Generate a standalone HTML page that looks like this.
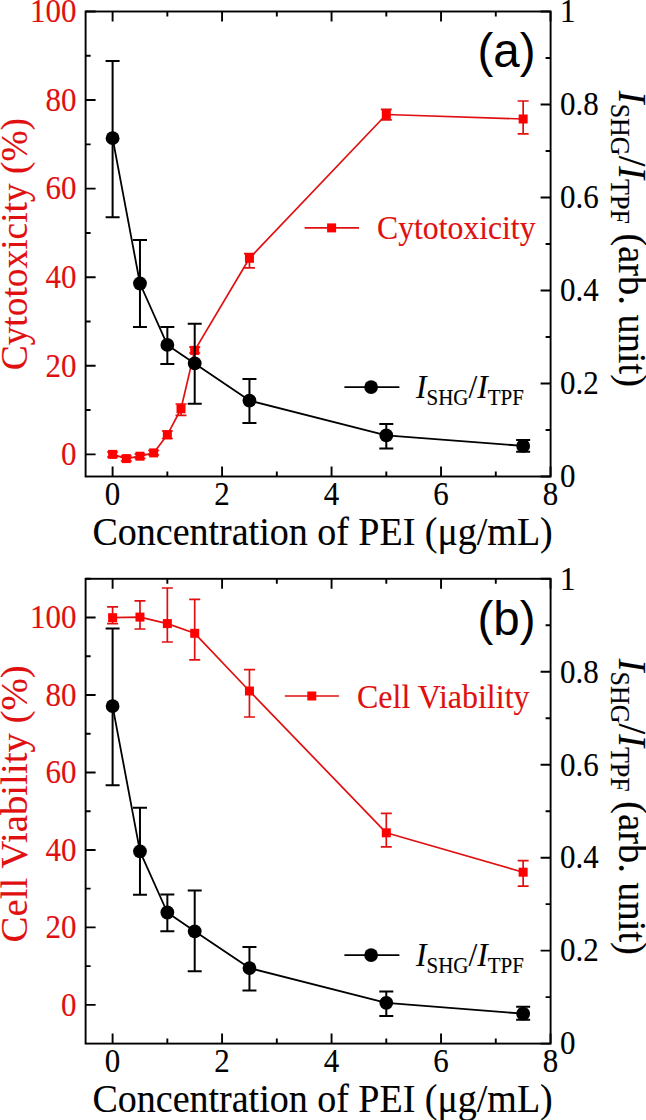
<!DOCTYPE html>
<html><head><meta charset="utf-8"><style>
html,body{margin:0;padding:0;background:#fff;}
svg{display:block;}
text{font-family:"Liberation Serif",serif;}
text.sans{font-family:"Liberation Sans",sans-serif;}
</style></head><body>
<svg width="646" height="1120" viewBox="0 0 646 1120">
<path d="M112.60 476.5V466.5M112.60 11.5V21.5M222.08 476.5V466.5M222.08 11.5V21.5M331.56 476.5V466.5M331.56 11.5V21.5M441.04 476.5V466.5M441.04 11.5V21.5M550.52 476.5V466.5M550.52 11.5V21.5M167.34 476.5V471.5M167.34 11.5V16.5M276.82 476.5V471.5M276.82 11.5V16.5M386.30 476.5V471.5M386.30 11.5V16.5M495.78 476.5V471.5M495.78 11.5V16.5M85.6 454.36H95.6M85.6 365.79H95.6M85.6 277.21H95.6M85.6 188.64H95.6M85.6 100.07H95.6M85.6 11.50H95.6M85.6 410.07H90.6M85.6 321.50H90.6M85.6 232.93H90.6M85.6 144.36H90.6M85.6 55.79H90.6M550.6 476.50H540.6M550.6 383.50H540.6M550.6 290.50H540.6M550.6 197.50H540.6M550.6 104.50H540.6M550.6 11.50H540.6M550.6 430.00H545.6M550.6 337.00H545.6M550.6 244.00H545.6M550.6 151.00H545.6M550.6 58.00H545.6" stroke="#000" stroke-width="1.9" fill="none"/>
<path d="M112.60 454.40 L126.28 458.60 L139.97 456.20 L153.66 452.90 L167.34 434.80 L181.02 408.80 L194.71 350.40 L249.45 258.30 L386.30 114.50 L523.15 119.00" stroke="#e01010" stroke-width="1.7" fill="none" stroke-linejoin="round"/>
<path d="M112.60 452.00V457.00M107.10 452.00H118.10M107.10 457.00H118.10M126.28 456.00V461.00M120.78 456.00H131.78M120.78 461.00H131.78M139.97 454.00V458.50M134.47 454.00H145.47M134.47 458.50H145.47M153.66 450.50V455.00M148.16 450.50H159.16M148.16 455.00H159.16M167.34 431.00V438.50M161.84 431.00H172.84M161.84 438.50H172.84M181.02 404.00V415.40M175.52 404.00H186.52M175.52 415.40H186.52M194.71 347.10V353.00M189.21 347.10H200.21M189.21 353.00H200.21M249.45 253.60V267.90M243.95 253.60H254.95M243.95 267.90H254.95M386.30 109.40V119.90M380.80 109.40H391.80M380.80 119.90H391.80M523.15 101.00V133.90M517.65 101.00H528.65M517.65 133.90H528.65" stroke="#e01010" stroke-width="1.7" fill="none"/>
<rect x="108.10" y="449.90" width="9" height="9" fill="#ff0000"/>
<rect x="121.78" y="454.10" width="9" height="9" fill="#ff0000"/>
<rect x="135.47" y="451.70" width="9" height="9" fill="#ff0000"/>
<rect x="149.16" y="448.40" width="9" height="9" fill="#ff0000"/>
<rect x="162.84" y="430.30" width="9" height="9" fill="#ff0000"/>
<rect x="176.52" y="404.30" width="9" height="9" fill="#ff0000"/>
<rect x="190.21" y="345.90" width="9" height="9" fill="#ff0000"/>
<rect x="244.95" y="253.80" width="9" height="9" fill="#ff0000"/>
<rect x="381.80" y="110.00" width="9" height="9" fill="#ff0000"/>
<rect x="518.65" y="114.50" width="9" height="9" fill="#ff0000"/>
<path d="M112.60 138.20 L139.97 283.50 L167.34 344.90 L194.71 363.40 L249.45 400.60 L386.30 435.40 L523.15 445.90" stroke="#000" stroke-width="1.8" fill="none" stroke-linejoin="round"/>
<path d="M112.60 60.90V217.30M105.60 60.90H119.60M105.60 217.30H119.60M139.97 240.00V327.00M132.97 240.00H146.97M132.97 327.00H146.97M167.34 327.00V363.90M160.34 327.00H174.34M160.34 363.90H174.34M194.71 323.70V403.80M187.71 323.70H201.71M187.71 403.80H201.71M249.45 379.10V423.10M242.45 379.10H256.45M242.45 423.10H256.45M386.30 423.90V448.40M379.30 423.90H393.30M379.30 448.40H393.30M523.15 440.00V451.80M516.15 440.00H530.15M516.15 451.80H530.15" stroke="#000" stroke-width="2" fill="none"/>
<circle cx="112.60" cy="138.20" r="6.9" fill="#000"/>
<circle cx="139.97" cy="283.50" r="6.9" fill="#000"/>
<circle cx="167.34" cy="344.90" r="6.9" fill="#000"/>
<circle cx="194.71" cy="363.40" r="6.9" fill="#000"/>
<circle cx="249.45" cy="400.60" r="6.9" fill="#000"/>
<circle cx="386.30" cy="435.40" r="6.9" fill="#000"/>
<circle cx="523.15" cy="445.90" r="6.9" fill="#000"/>
<rect x="85.6" y="11.5" width="465.0" height="465.0" fill="none" stroke="#000" stroke-width="1.9"/>
<path d="M112.60 1043.6V1033.6M112.60 578.8V588.8M222.08 1043.6V1033.6M222.08 578.8V588.8M331.56 1043.6V1033.6M331.56 578.8V588.8M441.04 1043.6V1033.6M441.04 578.8V588.8M550.52 1043.6V1033.6M550.52 578.8V588.8M167.34 1043.6V1038.6M167.34 578.8V583.8M276.82 1043.6V1038.6M276.82 578.8V583.8M386.30 1043.6V1038.6M386.30 578.8V583.8M495.78 1043.6V1038.6M495.78 578.8V583.8M85.6 1004.87H95.6M85.6 927.40H95.6M85.6 849.93H95.6M85.6 772.47H95.6M85.6 695.00H95.6M85.6 617.53H95.6M85.6 966.13H90.6M85.6 888.67H90.6M85.6 811.20H90.6M85.6 733.73H90.6M85.6 656.27H90.6M85.6 578.80H90.6M550.6 1043.60H540.6M550.6 950.64H540.6M550.6 857.68H540.6M550.6 764.72H540.6M550.6 671.76H540.6M550.6 578.80H540.6M550.6 997.12H545.6M550.6 904.16H545.6M550.6 811.20H545.6M550.6 718.24H545.6M550.6 625.28H545.6" stroke="#000" stroke-width="1.9" fill="none"/>
<path d="M112.60 617.70 L139.97 617.10 L167.34 623.60 L194.71 633.30 L249.45 691.00 L386.30 832.80 L523.15 872.20" stroke="#e01010" stroke-width="1.7" fill="none" stroke-linejoin="round"/>
<path d="M112.60 606.90V623.60M107.10 606.90H118.10M107.10 623.60H118.10M139.97 600.80V629.00M134.47 600.80H145.47M134.47 629.00H145.47M167.34 588.00V642.00M161.84 588.00H172.84M161.84 642.00H172.84M194.71 599.30V659.80M189.21 599.30H200.21M189.21 659.80H200.21M249.45 669.70V717.00M243.95 669.70H254.95M243.95 717.00H254.95M386.30 813.30V846.80M380.80 813.30H391.80M380.80 846.80H391.80M523.15 860.70V886.10M517.65 860.70H528.65M517.65 886.10H528.65" stroke="#e01010" stroke-width="1.7" fill="none"/>
<rect x="108.10" y="613.20" width="9" height="9" fill="#ff0000"/>
<rect x="135.47" y="612.60" width="9" height="9" fill="#ff0000"/>
<rect x="162.84" y="619.10" width="9" height="9" fill="#ff0000"/>
<rect x="190.21" y="628.80" width="9" height="9" fill="#ff0000"/>
<rect x="244.95" y="686.50" width="9" height="9" fill="#ff0000"/>
<rect x="381.80" y="828.30" width="9" height="9" fill="#ff0000"/>
<rect x="518.65" y="867.70" width="9" height="9" fill="#ff0000"/>
<path d="M112.60 706.10 L139.97 851.30 L167.34 912.50 L194.71 931.30 L249.45 968.10 L386.30 1002.80 L523.15 1013.70" stroke="#000" stroke-width="1.8" fill="none" stroke-linejoin="round"/>
<path d="M112.60 628.60V785.30M105.60 628.60H119.60M105.60 785.30H119.60M139.97 807.80V894.70M132.97 807.80H146.97M132.97 894.70H146.97M167.34 894.40V931.30M160.34 894.40H174.34M160.34 931.30H174.34M194.71 890.60V971.30M187.71 890.60H201.71M187.71 971.30H201.71M249.45 946.90V990.60M242.45 946.90H256.45M242.45 990.60H256.45M386.30 991.40V1016.10M379.30 991.40H393.30M379.30 1016.10H393.30M523.15 1006.80V1019.80M516.15 1006.80H530.15M516.15 1019.80H530.15" stroke="#000" stroke-width="2" fill="none"/>
<circle cx="112.60" cy="706.10" r="6.9" fill="#000"/>
<circle cx="139.97" cy="851.30" r="6.9" fill="#000"/>
<circle cx="167.34" cy="912.50" r="6.9" fill="#000"/>
<circle cx="194.71" cy="931.30" r="6.9" fill="#000"/>
<circle cx="249.45" cy="968.10" r="6.9" fill="#000"/>
<circle cx="386.30" cy="1002.80" r="6.9" fill="#000"/>
<circle cx="523.15" cy="1013.70" r="6.9" fill="#000"/>
<rect x="85.6" y="578.8" width="465.0" height="464.79999999999995" fill="none" stroke="#000" stroke-width="1.9"/>
<text x="0" y="0" font-size="31" fill="#e01010" stroke="#e01010" stroke-width="0.12" text-anchor="end" transform="translate(76.50,465.16) scale(1,1.1)">0</text>
<text x="0" y="0" font-size="31" fill="#e01010" stroke="#e01010" stroke-width="0.12" text-anchor="end" transform="translate(76.50,376.59) scale(1,1.1)">20</text>
<text x="0" y="0" font-size="31" fill="#e01010" stroke="#e01010" stroke-width="0.12" text-anchor="end" transform="translate(76.50,288.01) scale(1,1.1)">40</text>
<text x="0" y="0" font-size="31" fill="#e01010" stroke="#e01010" stroke-width="0.12" text-anchor="end" transform="translate(76.50,199.44) scale(1,1.1)">60</text>
<text x="0" y="0" font-size="31" fill="#e01010" stroke="#e01010" stroke-width="0.12" text-anchor="end" transform="translate(76.50,110.87) scale(1,1.1)">80</text>
<text x="0" y="0" font-size="31" fill="#e01010" stroke="#e01010" stroke-width="0.12" text-anchor="end" transform="translate(76.50,22.30) scale(1,1.1)">100</text>
<text x="0" y="0" font-size="31" fill="#000" stroke="#000" stroke-width="0.12" text-anchor="start" transform="translate(560.00,487.30) scale(1,1.1)">0</text>
<text x="0" y="0" font-size="31" fill="#000" stroke="#000" stroke-width="0.12" text-anchor="start" transform="translate(560.00,394.30) scale(1,1.1)">0.2</text>
<text x="0" y="0" font-size="31" fill="#000" stroke="#000" stroke-width="0.12" text-anchor="start" transform="translate(560.00,301.30) scale(1,1.1)">0.4</text>
<text x="0" y="0" font-size="31" fill="#000" stroke="#000" stroke-width="0.12" text-anchor="start" transform="translate(560.00,208.30) scale(1,1.1)">0.6</text>
<text x="0" y="0" font-size="31" fill="#000" stroke="#000" stroke-width="0.12" text-anchor="start" transform="translate(560.00,115.30) scale(1,1.1)">0.8</text>
<text x="0" y="0" font-size="31" fill="#000" stroke="#000" stroke-width="0.12" text-anchor="start" transform="translate(560.00,22.30) scale(1,1.1)">1</text>
<text x="0" y="0" font-size="31" fill="#000" stroke="#000" stroke-width="0.12" text-anchor="middle" transform="translate(112.60,505.20) scale(1,1.1)">0</text>
<text x="0" y="0" font-size="31" fill="#000" stroke="#000" stroke-width="0.12" text-anchor="middle" transform="translate(222.08,505.20) scale(1,1.1)">2</text>
<text x="0" y="0" font-size="31" fill="#000" stroke="#000" stroke-width="0.12" text-anchor="middle" transform="translate(331.56,505.20) scale(1,1.1)">4</text>
<text x="0" y="0" font-size="31" fill="#000" stroke="#000" stroke-width="0.12" text-anchor="middle" transform="translate(441.04,505.20) scale(1,1.1)">6</text>
<text x="0" y="0" font-size="31" fill="#000" stroke="#000" stroke-width="0.12" text-anchor="middle" transform="translate(550.52,505.20) scale(1,1.1)">8</text>
<text x="0" y="0" font-size="38" fill="#000" stroke="#000" stroke-width="0.12" text-anchor="start" transform="translate(92.50,544.50) scale(1,1.04)">Concentration of PEI (&#956;g/mL)</text>
<text x="0" y="0" font-size="31" fill="#e01010" stroke="#e01010" stroke-width="0.12" text-anchor="end" transform="translate(76.50,1015.67) scale(1,1.1)">0</text>
<text x="0" y="0" font-size="31" fill="#e01010" stroke="#e01010" stroke-width="0.12" text-anchor="end" transform="translate(76.50,938.20) scale(1,1.1)">20</text>
<text x="0" y="0" font-size="31" fill="#e01010" stroke="#e01010" stroke-width="0.12" text-anchor="end" transform="translate(76.50,860.73) scale(1,1.1)">40</text>
<text x="0" y="0" font-size="31" fill="#e01010" stroke="#e01010" stroke-width="0.12" text-anchor="end" transform="translate(76.50,783.27) scale(1,1.1)">60</text>
<text x="0" y="0" font-size="31" fill="#e01010" stroke="#e01010" stroke-width="0.12" text-anchor="end" transform="translate(76.50,705.80) scale(1,1.1)">80</text>
<text x="0" y="0" font-size="31" fill="#e01010" stroke="#e01010" stroke-width="0.12" text-anchor="end" transform="translate(76.50,628.33) scale(1,1.1)">100</text>
<text x="0" y="0" font-size="31" fill="#000" stroke="#000" stroke-width="0.12" text-anchor="start" transform="translate(560.00,1054.40) scale(1,1.1)">0</text>
<text x="0" y="0" font-size="31" fill="#000" stroke="#000" stroke-width="0.12" text-anchor="start" transform="translate(560.00,961.44) scale(1,1.1)">0.2</text>
<text x="0" y="0" font-size="31" fill="#000" stroke="#000" stroke-width="0.12" text-anchor="start" transform="translate(560.00,868.48) scale(1,1.1)">0.4</text>
<text x="0" y="0" font-size="31" fill="#000" stroke="#000" stroke-width="0.12" text-anchor="start" transform="translate(560.00,775.52) scale(1,1.1)">0.6</text>
<text x="0" y="0" font-size="31" fill="#000" stroke="#000" stroke-width="0.12" text-anchor="start" transform="translate(560.00,682.56) scale(1,1.1)">0.8</text>
<text x="0" y="0" font-size="31" fill="#000" stroke="#000" stroke-width="0.12" text-anchor="start" transform="translate(560.00,589.60) scale(1,1.1)">1</text>
<text x="0" y="0" font-size="31" fill="#000" stroke="#000" stroke-width="0.12" text-anchor="middle" transform="translate(112.60,1072.30) scale(1,1.1)">0</text>
<text x="0" y="0" font-size="31" fill="#000" stroke="#000" stroke-width="0.12" text-anchor="middle" transform="translate(222.08,1072.30) scale(1,1.1)">2</text>
<text x="0" y="0" font-size="31" fill="#000" stroke="#000" stroke-width="0.12" text-anchor="middle" transform="translate(331.56,1072.30) scale(1,1.1)">4</text>
<text x="0" y="0" font-size="31" fill="#000" stroke="#000" stroke-width="0.12" text-anchor="middle" transform="translate(441.04,1072.30) scale(1,1.1)">6</text>
<text x="0" y="0" font-size="31" fill="#000" stroke="#000" stroke-width="0.12" text-anchor="middle" transform="translate(550.52,1072.30) scale(1,1.1)">8</text>
<text x="0" y="0" font-size="38" fill="#000" stroke="#000" stroke-width="0.12" text-anchor="start" transform="translate(92.50,1111.60) scale(1,1.04)">Concentration of PEI (&#956;g/mL)</text>
<text x="0" y="0" font-size="37.4" fill="#e01010" stroke="#e01010" stroke-width="0.12" text-anchor="middle" transform="translate(27.40,244.15) rotate(-90) scale(1,1.04)">Cytotoxicity (%)</text>
<text x="0" y="0" font-size="38.8" fill="#e01010" stroke="#e01010" stroke-width="0.12" text-anchor="middle" transform="translate(27.20,803.85) rotate(-90)">Cell Viability (%)</text>
<text x="0" y="0" font-size="38.4" fill="#000" stroke="#000" stroke-width="0.12" text-anchor="middle" transform="translate(619.00,238.90) rotate(90) scale(1,1.03)"><tspan font-style="italic">I</tspan><tspan font-size="26" dy="8">SHG</tspan><tspan dy="-8">/</tspan><tspan font-style="italic">I</tspan><tspan font-size="26" dy="8">TPF</tspan><tspan dy="-8"> (arb. unit)</tspan></text>
<text x="0" y="0" font-size="38.4" fill="#000" stroke="#000" stroke-width="0.12" text-anchor="middle" transform="translate(619.00,806.80) rotate(90) scale(1,1.03)"><tspan font-style="italic">I</tspan><tspan font-size="26" dy="8">SHG</tspan><tspan dy="-8">/</tspan><tspan font-style="italic">I</tspan><tspan font-size="26" dy="8">TPF</tspan><tspan dy="-8"> (arb. unit)</tspan></text>
<text class="sans" x="0" y="0" font-size="47.5" fill="#000" stroke="#000" stroke-width="0" text-anchor="start" transform="translate(477.50,67.00)">(a)</text>
<text class="sans" x="0" y="0" font-size="47.5" fill="#000" stroke="#000" stroke-width="0" text-anchor="start" transform="translate(477.50,635.00)">(b)</text>
<path d="M344.4 387.1H399.4" stroke="#000" stroke-width="1.8"/><circle cx="371.1" cy="387.1" r="6.9" fill="#000"/>
<text x="0" y="0" font-size="31.5" fill="#000" stroke="#000" stroke-width="0.12" text-anchor="start" transform="translate(416.00,398.30) scale(1,1.05)"><tspan font-style="italic">I</tspan><tspan font-size="21" dy="6.8">SHG</tspan><tspan dy="-6.8">/</tspan><tspan font-style="italic">I</tspan><tspan font-size="21" dy="6.8">TPF</tspan></text>
<path d="M344.4 955.1H399.4" stroke="#000" stroke-width="1.8"/><circle cx="371.1" cy="955.1" r="6.9" fill="#000"/>
<text x="0" y="0" font-size="31.5" fill="#000" stroke="#000" stroke-width="0.12" text-anchor="start" transform="translate(416.00,966.30) scale(1,1.05)"><tspan font-style="italic">I</tspan><tspan font-size="21" dy="6.8">SHG</tspan><tspan dy="-6.8">/</tspan><tspan font-style="italic">I</tspan><tspan font-size="21" dy="6.8">TPF</tspan></text>
<path d="M304.6 227.9H359" stroke="#e01010" stroke-width="1.6"/><rect x="327.1" y="223.4" width="9" height="9" fill="#ff0000"/>
<text x="0" y="0" font-size="31.7" fill="#e01010" stroke="#e01010" stroke-width="0.12" text-anchor="start" transform="translate(377.00,238.50) scale(1,1.05)">Cytotoxicity</text>
<path d="M284.8 696H338.9" stroke="#e01010" stroke-width="1.6"/><rect x="307.3" y="691.5" width="9" height="9" fill="#ff0000"/>
<text x="0" y="0" font-size="32" fill="#e01010" stroke="#e01010" stroke-width="0.12" text-anchor="start" transform="translate(357.00,707.80) scale(1,1.05)">Cell Viability</text>
</svg>
</body></html>
